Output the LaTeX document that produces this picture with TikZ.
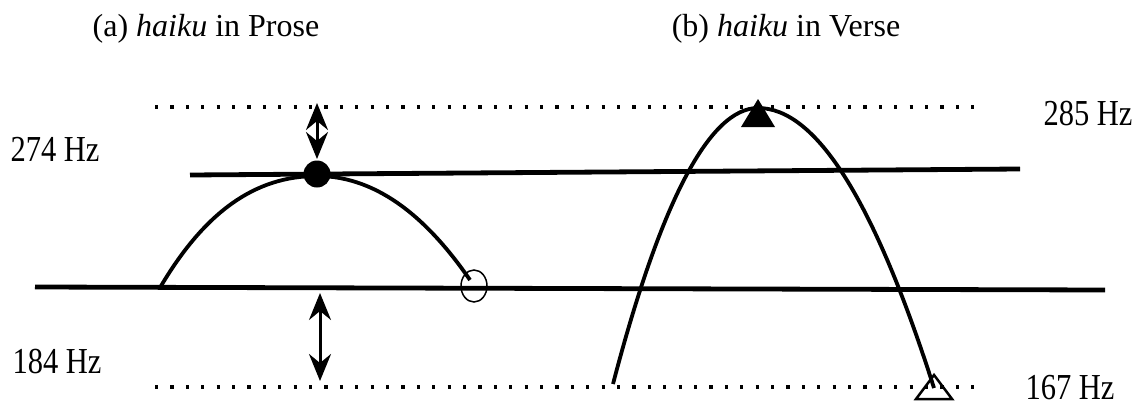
\documentclass[tikz,border=0pt]{standalone}
\usepackage{fontspec}
\setmainfont{Liberation Serif}
\usetikzlibrary{arrows.meta}
\begin{document}
\begin{tikzpicture}[x=1pt,y=-1pt,
  solidline/.style={line width=4.8pt},
  dotline/.style={line width=3.8pt, dash pattern=on 3.2pt off 12.2pt},
  curveline/.style={line width=3.8pt},
  dbl/.style={line width=3pt, {Stealth[length=27pt,width=22pt,inset=9pt]}-{Stealth[length=27pt,width=22pt,inset=9pt]}},
  title/.style={font=\fontsize{32}{36}\selectfont, inner sep=0pt},
  hz/.style={font=\fontsize{30.5}{34}\selectfont, inner sep=0pt}]
\useasboundingbox (0,0) rectangle (1145,407);
% titles
\node[title] (ta) at (206,29) {(a) \textit{haiku} in Prose};
\node[title] (tb) at (786,29) {(b) \textit{haiku} in Verse};
% frequency labels
\node[hz] (f274) at (55,149) {\scalebox{1}[1.2]{274 Hz}};
\node[hz] (f184) at (57,362) {\scalebox{1}[1.2]{184 Hz}};
\node[hz] (f285) at (1088,114) {\scalebox{1}[1.2]{285 Hz}};
\node[hz] (f167) at (1070,388) {\scalebox{1}[1.2]{167 Hz}};
% reference lines
\draw[dotline] (155,107) -- (985,107);
\draw[dotline] (155,387) -- (985,387);
\draw[solidline] (190,175) -- (1020,169);
\draw[solidline] (35,287) -- (1105,290);
% prose contour
\coordinate (pa) at (161,286);
\coordinate (pp) at (317,176);
\coordinate (pe) at (470,280);
\draw[curveline] (pa) .. controls (205,212) and (255,176) .. (pp)
  .. controls (380,176) and (430,222) .. (pe);
\fill (317,174) circle[radius=13.5];
\draw[line width=1.5pt] (474,286) ellipse[x radius=13, y radius=16];
% verse contour
\coordinate (va) at (613,384);
\coordinate (vp) at (758,108);
\coordinate (ve) at (934,388);
\draw[curveline] (va) .. controls (661,200) and (710,108) .. (vp)
  .. controls (816,108) and (874,200) .. (ve);
\fill (758,99) -- (775,127) -- (741,127) -- cycle;
\draw[line width=2.5pt, line join=miter] (934,375) -- (952,399) -- (916,399) -- cycle;
% range arrows
\coordinate (ut) at (317,103);
\coordinate (ub) at (317,159);
\coordinate (lt) at (320,293);
\coordinate (lb) at (320,381);
\draw[dbl] (ut) -- (ub);
\draw[dbl] (lt) -- (lb);
\end{tikzpicture}
\end{document}
